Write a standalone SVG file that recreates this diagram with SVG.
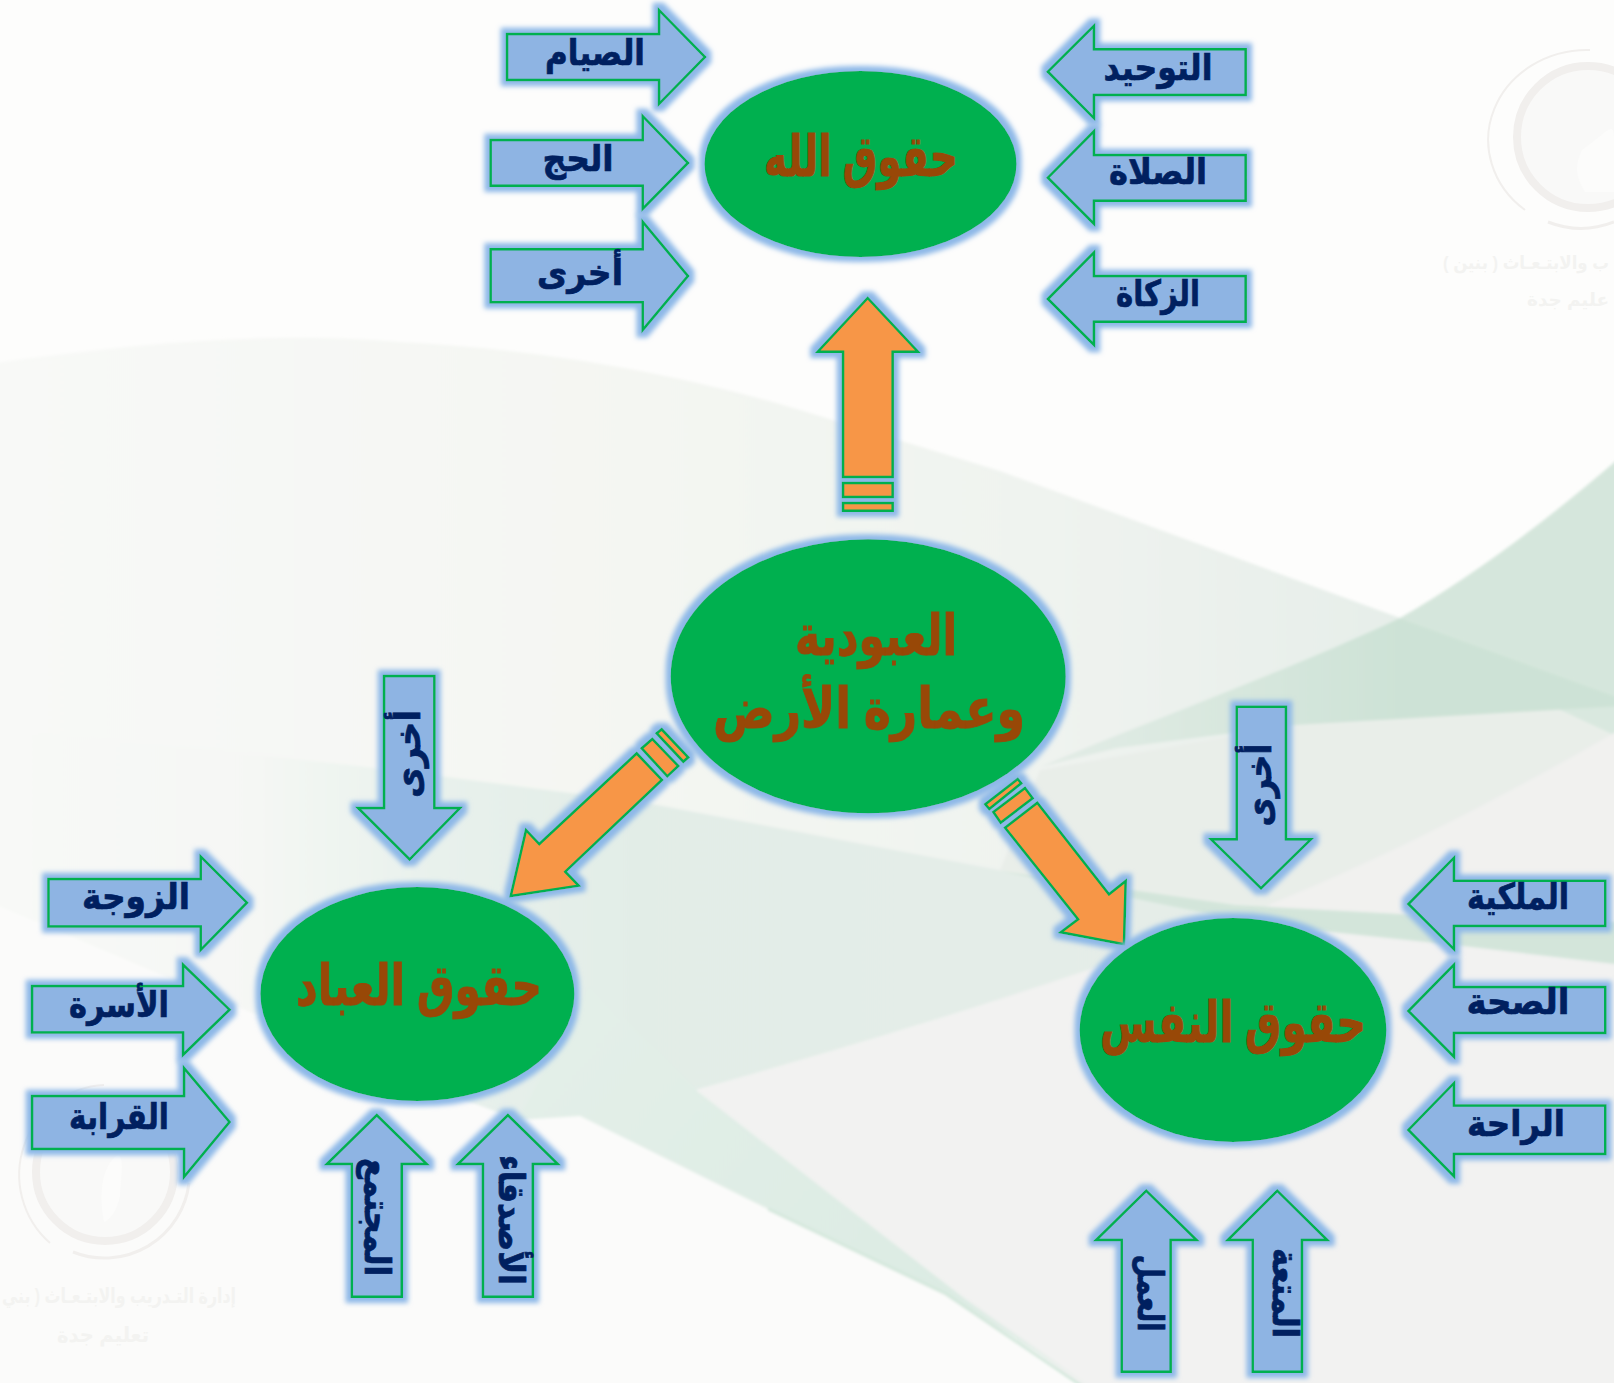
<svg xmlns="http://www.w3.org/2000/svg" width="1614" height="1383" viewBox="0 0 1614 1383">
<style>
.lbl{font-family:"Liberation Sans","DejaVu Sans",sans-serif;font-weight:bold;font-size:36px;fill:#002060;stroke:#002060;stroke-width:.7;text-anchor:middle}
.big{font-family:"Liberation Sans","DejaVu Sans",sans-serif;font-weight:bold;font-size:56px;fill:#984807;stroke:#984807;stroke-width:1;text-anchor:middle}
.wm{font-family:"Liberation Sans","DejaVu Sans",sans-serif;font-weight:bold;font-size:21px;fill:#f3f3f1;text-anchor:middle}
.wms{font-size:18px}
.b{fill:#8eb4e3;stroke:#00b050;stroke-width:2.5}
.o{fill:#f79646;stroke:#00b050;stroke-width:2.5}
.e{fill:#00b050}
.ring{fill:none;stroke:#f1efed}
</style>
<defs>
<filter id="glow" x="-25%" y="-25%" width="150%" height="150%">
<feMorphology in="SourceAlpha" operator="dilate" radius="5" result="d"/>
<feGaussianBlur in="d" stdDeviation="2.6" result="bl"/>
<feFlood flood-color="#8db8e8"/>
<feComposite in2="bl" operator="in" result="c"/>
<feMerge><feMergeNode in="c"/><feMergeNode in="SourceGraphic"/></feMerge>
</filter>
<filter id="soft" filterUnits="userSpaceOnUse" x="-60" y="-60" width="1740" height="1500"><feGaussianBlur stdDeviation="1.6"/></filter>
<linearGradient id="g1" gradientUnits="userSpaceOnUse" x1="0" y1="0" x2="1400" y2="0"><stop offset="0" stop-color="#f8f9f7"/><stop offset="0.45" stop-color="#f4f6f2"/><stop offset="0.75" stop-color="#eff3ef"/><stop offset="1" stop-color="#e6eee9"/></linearGradient>
<linearGradient id="g3" gradientUnits="userSpaceOnUse" x1="0" y1="0" x2="1264" y2="0"><stop offset="0" stop-color="#f8f9f7"/><stop offset="0.2" stop-color="#f5f7f4"/><stop offset="0.34" stop-color="#e8f1ec"/><stop offset="0.5" stop-color="#e2ede7"/><stop offset="1" stop-color="#e5ede8"/></linearGradient>
<linearGradient id="g4" gradientUnits="userSpaceOnUse" x1="1040" y1="0" x2="1400" y2="0"><stop offset="0" stop-color="#e3ece6"/><stop offset="1" stop-color="#cde2d6"/></linearGradient>
<linearGradient id="g5" gradientUnits="userSpaceOnUse" x1="589" y1="986" x2="1080" y2="1383"><stop offset="0" stop-color="#e3efe8"/><stop offset="0.75" stop-color="#dcebe3"/><stop offset="1" stop-color="#e8f0eb"/></linearGradient>
</defs>
<g id="background">
<rect width="1614" height="1383" fill="#fdfdfc"/>
<g filter="url(#soft)">
<path d="M-40,368C120,345 255,330 400,342C561,350 700,380 800,410L1000,471L1400,618L1640,705V1000H-40Z" fill="url(#g1)"/>
<path d="M1400,618Q1510,555 1640,440V705Z" fill="#d5e6dc"/>
<path d="M-40,728C255,750 449,777 652,804L1200,908L1264,907C1080,978 857,1045 696,1090L518,1120C380,1070 200,990 -40,890Z" fill="url(#g3)"/>
<path d="M1040,770L1294,725L1640,700V718C1500,800 1380,860 1264,907L1134,895L1000,870Z" fill="#e9eee9"/>
<path d="M1552,706L1640,700V722L1614,735Z" fill="#d9e8df"/>
<path d="M1400,618L1640,705L1294,725L1117,748L1040,767C1150,720 1290,670 1400,618Z" fill="url(#g4)"/>
<path d="M1264,907C1380,860 1500,800 1640,718V922L1454,917Z" fill="#f1f1ef"/>
<path d="M696,1090C857,1045 1080,978 1264,907L1640,965V1400H1100L964,1298Z" fill="#f2f2f1"/>
<path d="M1000,871L1235,905L1454,917L1640,923V967L1454,945L1264,925Z" fill="#d3e5da"/>
<path d="M589,986L696,1090L964,1298L1095,1390L946,1294L768,1209L518,1120Z" fill="url(#g5)"/>
<path d="M-40,890C200,990 380,1070 518,1120L580,1116L768,1209L946,1294L1095,1400H-40Z" fill="#fbfbfa"/>
<path d="M768,1209L946,1294L1095,1395" fill="none" stroke="#d3e7db" stroke-width="3"/>
</g>
<circle cx="1588" cy="137" r="71" fill="#f9f9f8" stroke="#f1efed" stroke-width="8"/>
<path d="M1582,150C1610,130 1614,120 1614,140V192H1585C1575,175 1575,165 1582,150Z" fill="#fcfcfb"/>
<path d="M1525,210A99,90 0 0 1 1590,50" class="ring" stroke-width="2"/>
<path d="M1548,222A90,90 0 0 0 1614,222" class="ring" stroke-width="3"/>
<circle cx="105" cy="1172" r="69" fill="#f9f9f8" stroke="#f1efed" stroke-width="8"/>
<path d="M112,1160C125,1145 122,1170 120,1195C118,1210 108,1222 104,1222C100,1200 100,1175 112,1160Z" fill="#fcfcfb"/>
<path d="M50,1243A89,90 0 0 1 104,1085" class="ring" stroke-width="2"/>
<path d="M73,1252A85,85 0 0 0 189,1183" class="ring" stroke-width="3"/>
<text class="wm" x="119" y="1303" textLength="234" lengthAdjust="spacingAndGlyphs">إدارة التـدريب والابتـعـاث ( بني</text>
<text class="wm" x="103" y="1342" textLength="92" lengthAdjust="spacingAndGlyphs">تعليم جدة</text>
<text class="wm wms" x="1526" y="269" textLength="166" lengthAdjust="spacingAndGlyphs">ب والابتـعـاث ( بنين )</text>
<text class="wm wms" x="1568" y="306" textLength="82" lengthAdjust="spacingAndGlyphs">عليم جدة</text>
</g>
<g id="connectors">
<g id="arrow-up" class="o" filter="url(#glow)">
<polygon points="867.7,298 918,351.7 892.7,351.7 892.7,477 843,477 843,351.7 817.7,351.7"/>
<polygon points="843,483 892.7,483 892.7,497 843,497"/>
<polygon points="843,503 892.7,503 892.7,510.7 843,510.7"/>
</g>
<g id="arrow-left" class="o" filter="url(#glow)">
<polygon points="510.7,896 526,830 539.3,844 636.7,753.3 662,780 565.3,871.7 578.7,885.7"/>
<polygon points="641.7,748.3 652.3,739 678.3,766 667.3,776.3"/>
<polygon points="656.7,733.3 661.7,729.3 688.3,757.3 683.3,761.7"/>
</g>
<g id="arrow-right" class="o" filter="url(#glow)">
<polygon points="1124,944.3 1060.7,932.3 1078,919.3 1005,827.7 1037.3,802.7 1109,894.3 1125.7,881"/>
<polygon points="1025,788 1032.7,798.3 1000.7,822.7 993.3,812"/>
<polygon points="1017.7,779 1021.3,783.3 989.3,809 985.3,804.3"/>
</g>
</g>
<g id="node-center"><ellipse class="e" cx="868.2" cy="676.3" rx="197.5" ry="137" filter="url(#glow)"/>
<text class="big" x="876" y="655" textLength="162" lengthAdjust="spacingAndGlyphs">العبودية</text>
<text class="big" x="869" y="728" textLength="312" lengthAdjust="spacingAndGlyphs">وعمارة الأرض</text></g>
<g id="node-allah"><ellipse class="e" cx="860.5" cy="164" rx="156" ry="93" filter="url(#glow)"/>
<text class="big" x="861" y="176" textLength="194" lengthAdjust="spacingAndGlyphs">حقوق الله</text></g>
<g id="node-ibad"><ellipse class="e" cx="417.4" cy="994" rx="157" ry="107" filter="url(#glow)"/>
<text class="big" x="419" y="1005" textLength="246" lengthAdjust="spacingAndGlyphs">حقوق العباد</text></g>
<g id="node-nafs"><ellipse class="e" cx="1233" cy="1030" rx="153.4" ry="112" filter="url(#glow)"/>
<text class="big" x="1233" y="1042" textLength="266" lengthAdjust="spacingAndGlyphs">حقوق النفس</text></g>

<g id="a-siyam"><polygon class="b" filter="url(#glow)" points="507,34 659,34 659,10 705,57 659,104 659,80 507,80"/><text class="lbl" x="595" y="65" textLength="100" lengthAdjust="spacingAndGlyphs">الصيام</text></g>
<g id="a-hajj"><polygon class="b" filter="url(#glow)" points="490.6,140 642.7,140 642.7,116 688,163 642.7,209 642.7,185.7 490.6,185.7"/><text class="lbl" x="578" y="171" textLength="71" lengthAdjust="spacingAndGlyphs">الحج</text></g>
<g id="a-other1"><polygon class="b" filter="url(#glow)" points="490.6,249.3 642.7,249.3 642.7,221.7 688,276 642.7,330 642.7,302.3 490.6,302.3"/><text class="lbl" x="580" y="285" textLength="86" lengthAdjust="spacingAndGlyphs">أخرى</text></g>
<g id="a-tawhid"><polygon class="b" filter="url(#glow)" points="1245.7,49.3 1094,49.3 1094,25.7 1047.8,71.7 1094,118.3 1094,95 1245.7,95"/><text class="lbl" x="1158" y="80" textLength="109" lengthAdjust="spacingAndGlyphs">التوحيد</text></g>
<g id="a-salah"><polygon class="b" filter="url(#glow)" points="1245.7,155 1094,155 1094,131 1047.8,177.7 1094,224 1094,200.7 1245.7,200.7"/><text class="lbl" x="1158" y="184" textLength="98" lengthAdjust="spacingAndGlyphs">الصلاة</text></g>
<g id="a-zakah"><polygon class="b" filter="url(#glow)" points="1245.7,276 1094,276 1094,252.3 1047.8,299 1094,345 1094,321.7 1245.7,321.7"/><text class="lbl" x="1158" y="306" textLength="84" lengthAdjust="spacingAndGlyphs">الزكاة</text></g>

<g id="a-zawja"><polygon class="b" filter="url(#glow)" points="48.4,879 200.7,879 200.7,856.4 247,902.7 200.7,950 200.7,926.4 48.4,926.4"/><text class="lbl" x="136" y="909" textLength="108" lengthAdjust="spacingAndGlyphs">الزوجة</text></g>
<g id="a-usra"><polygon class="b" filter="url(#glow)" points="32,986 183,986 183,964.5 229.6,1009.7 183,1055 183,1032.4 32,1032.4"/><text class="lbl" x="119" y="1017" textLength="100" lengthAdjust="spacingAndGlyphs">الأسرة</text></g>
<g id="a-qaraba"><polygon class="b" filter="url(#glow)" points="32,1096 184,1096 184,1068 229.6,1122 184,1177 184,1149 32,1149"/><text class="lbl" x="119" y="1129" textLength="100" lengthAdjust="spacingAndGlyphs">القرابة</text></g>
<g id="a-other2"><polygon class="b" filter="url(#glow)" points="384,676 434.4,676 434.4,808 460,808 409.6,859.5 358,808 384,808"/><text class="lbl" transform="translate(420,754) rotate(-90)" textLength="88" lengthAdjust="spacingAndGlyphs">أخرى</text></g>
<g id="a-mujtama"><polygon class="b" filter="url(#glow)" points="351.8,1296.7 401.8,1296.7 401.8,1164 426.8,1164 376.8,1115 326.8,1164 351.8,1164"/><text class="lbl" transform="translate(365,1217) rotate(90)" textLength="118" lengthAdjust="spacingAndGlyphs">المجتمع</text></g>
<g id="a-asdiqa"><polygon class="b" filter="url(#glow)" points="482.9,1296.7 532.9,1296.7 532.9,1164 557.9,1164 507.9,1115 457.9,1164 482.9,1164"/><text class="lbl" transform="translate(499,1220) rotate(90)" textLength="130" lengthAdjust="spacingAndGlyphs">الأصدقاء</text></g>

<g id="a-other3"><polygon class="b" filter="url(#glow)" points="1236.7,706.7 1286,706.7 1286,839.3 1311,839.3 1261,888.3 1211,839.3 1236.7,839.3"/><text class="lbl" transform="translate(1271,785) rotate(-90)" textLength="83" lengthAdjust="spacingAndGlyphs">أخرى</text></g>
<g id="a-milkiya"><polygon class="b" filter="url(#glow)" points="1605.3,880.7 1454,880.7 1454,857.7 1408.3,904 1454,949.3 1454,926 1605.3,926"/><text class="lbl" x="1518" y="909" textLength="102" lengthAdjust="spacingAndGlyphs">الملكية</text></g>
<g id="a-sihha"><polygon class="b" filter="url(#glow)" points="1605.3,987 1454,987 1454,964.5 1408.3,1011 1454,1057 1454,1033 1605.3,1033"/><text class="lbl" x="1518" y="1014" textLength="103" lengthAdjust="spacingAndGlyphs">الصحة</text></g>
<g id="a-raha"><polygon class="b" filter="url(#glow)" points="1605.3,1105.5 1454,1105.5 1454,1083 1408.3,1130 1454,1176.5 1454,1154 1605.3,1154"/><text class="lbl" x="1516" y="1136" textLength="98" lengthAdjust="spacingAndGlyphs">الراحة</text></g>
<g id="a-amal"><polygon class="b" filter="url(#glow)" points="1121.7,1371.7 1170.7,1371.7 1170.7,1240 1196.7,1240 1146.3,1190.7 1096,1240 1121.7,1240"/><text class="lbl" transform="translate(1138,1293) rotate(90)" textLength="77" lengthAdjust="spacingAndGlyphs">العمل</text></g>
<g id="a-mutaa"><polygon class="b" filter="url(#glow)" points="1252.7,1371.7 1302,1371.7 1302,1240 1327.3,1240 1277.3,1190.7 1227.7,1240 1252.7,1240"/><text class="lbl" transform="translate(1273,1293) rotate(90)" textLength="90" lengthAdjust="spacingAndGlyphs">المتعة</text></g>
</svg>
